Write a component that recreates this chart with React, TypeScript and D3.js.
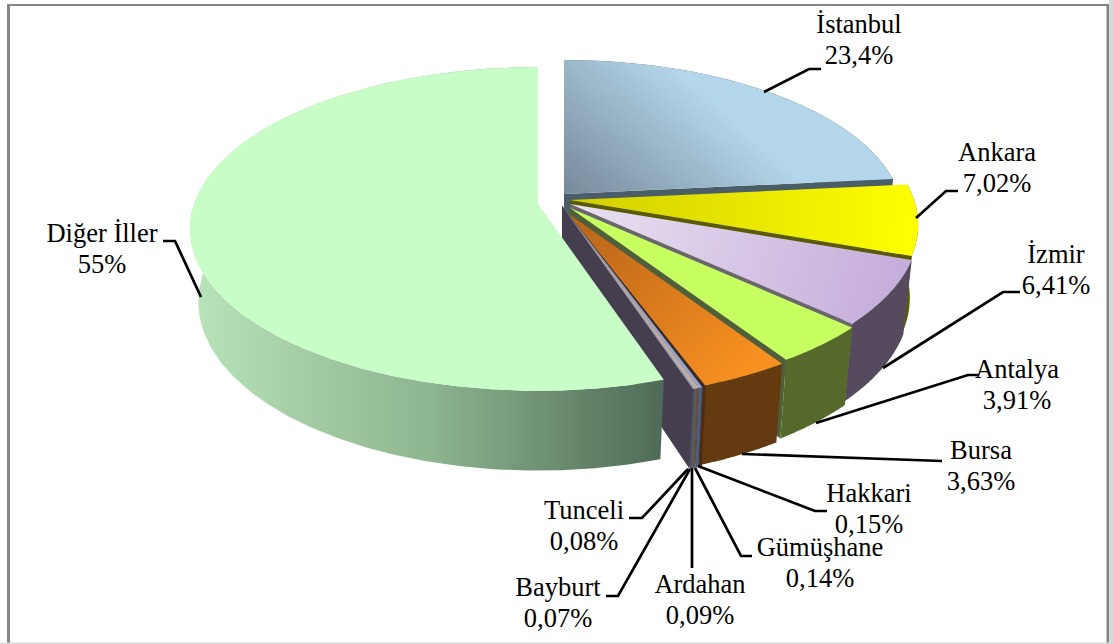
import React from 'react';
import * as d3 from 'd3';

const categories = ['İstanbul','Ankara','İzmir','Antalya','Bursa','Hakkari','Gümüşhane','Ardahan','Tunceli','Bayburt','Diğer İller'];
const values = [23.4,7.02,6.41,3.91,3.63,0.15,0.14,0.09,0.08,0.07,55];
const valueLabels = ['23,4%','7,02%','6,41%','3,91%','3,63%','0,15%','0,14%','0,09%','0,08%','0,07%','55%'];

// explosion offset (px) and perspective scale of each slice
const offsetX = [564,570,570,570,566,562,562,562,562,562,538];
const offsetY = [194,200,204,208,212,206,206,206,206,206,204];
const scales = [0.975,1,1,1,1,1.035,1.035,1.035,1.035,1.035,1];
// direction (degrees clockwise from up) of each top face's gradient
const gradientAngle = [22,97,121,140,153,160,161,161,161,162,261];

const topStart = ['#76899a','#d2ce00','#eae2f2','#c6ff5f','#b5621a','#3a2a20','#8fa8d8','#d8a89c','#b8c8a8','#a498c4','#c8fdc8'];
const topEnd =   ['#b4d6ea','#ffff00','#c6aedc','#c6ff5f','#f99120','#3a2a20','#8fa8d8','#d8a89c','#b8c8a8','#a498c4','#c8fdc8'];
const sideColors = ['#4a5e68','#5a5a00','#554a5e','#56682a','#643a10','#4f2c14','#4a6080','#6a4a48','#56664c','#4d4a70','#4f6b57'];
const endFaceColors = ['#4a5e68','#5a5a00','#6a6670','#4e5f3a','#3e2a14','#4f2c14','#4a6080','#6a4a48','#56664c','#443e4f','#4f6b57'];

const labelX = [859,997,1056,1017,981,869,820,700,584,558,102];
const labelY = [33,161,263,378,459,502,556,593,519,596,242];
const labelGap = 31;
const leaders: [number, number][][] = [
  [[764,92],[809,69],[821,69]],
  [[916,218],[946,191],[958,191]],
  [[883,368],[1003,292],[1020,292]],
  [[816,423],[968,375],[978,375]],
  [[742,454],[942,461]],
  [[698,466],[815,511],[827,511]],
  [[695,468],[741,556],[752,556]],
  [[692,468],[692,568]],
  [[688,469],[642,518],[629,518]],
  [[690,469],[618,596],[606,596]],
  [[201,297],[175,241],[163,241]],
];

const A = 344, B = 158, H = 74, K = 0.154, M = 0.024;
function project(ox: number, oy: number, s: number, theta: number, z: number): [number, number] {
  const u = Math.sin(theta) * s, v = Math.cos(theta) * s;
  const w = 1 + K * v + M * z;
  return [ox + (A * u) / w, oy + (B * v * -1 + H * z) / w];
}

const pie = d3.pie<number>().sort(null).startAngle(0).endAngle(2 * Math.PI);
const arcs = pie(values);
const lineGen = d3.line();
const STEPS = 40;
function rim(i: number, z: number) {
  const a = arcs[i];
  return d3.range(STEPS + 1).map(k => project(offsetX[i], offsetY[i], scales[i], d3.interpolateNumber(a.startAngle, a.endAngle)(k / STEPS), z));
}
function topPath(i: number) {
  const c: [number, number] = [offsetX[i], offsetY[i]];
  return lineGen([c, ...rim(i, 0)])! + 'Z';
}
function sidePath(i: number) {
  return lineGen([...rim(i, 0), ...rim(i, 1).reverse()])! + 'Z';
}
function endFacePath(i: number) {
  const top = rim(i, 0)[STEPS];
  const bot = rim(i, 1)[STEPS];
  const c: [number, number] = [offsetX[i], offsetY[i]];
  const cb: [number, number] = [offsetX[i], offsetY[i] + H / (1 + M)];
  return lineGen([c, top, bot, cb])! + 'Z';
}

export default function App() {
  const order = d3.range(values.length);
  const last = values.length - 1;
  return (
    <svg width={1113} height={644} style={{ position: 'absolute', left: 0, top: 0, display: 'block' }} fontFamily="'Liberation Serif', serif">
      <defs>
        {order.map(i => {
          const c: [number, number] = [offsetX[i], offsetY[i]];
          const m = project(offsetX[i], offsetY[i], scales[i], (gradientAngle[i] * Math.PI) / 180, 0);
          return (
            <linearGradient key={i} id={`top${i}`} gradientUnits="userSpaceOnUse" x1={c[0]} y1={c[1]} x2={m[0]} y2={m[1]}>
              <stop offset="0" stopColor={topStart[i]} />
              <stop offset="1" stopColor={topEnd[i]} />
            </linearGradient>
          );
        })}
        <linearGradient id="sideLast" gradientUnits="userSpaceOnUse" x1={198} y1={0} x2={662} y2={0}>
          <stop offset="0" stopColor="#b8e2b8" />
          <stop offset="0.5" stopColor="#8db58f" />
          <stop offset="1" stopColor="#4f6b57" />
        </linearGradient>
      </defs>
      <rect x={0} y={0} width={1113} height={644} fill="#ffffff" />
      <rect x={7} y={4} width={1101} height={2} fill="#868686" />
      <rect x={7} y={4} width={3} height={640} fill="#868686" />
      <rect x={1106.5} y={4} width={2.5} height={640} fill="#868686" />
      <rect x={1109} y={0} width={4} height={644} fill="#d9d9d9" />
      <rect x={0} y={642.5} width={1113} height={1.5} fill="#d9d9d9" />
      {order.filter(i => i !== last).map(i => (
        <g key={i}>
          <path d={endFacePath(i)} fill={endFaceColors[i]} />
          <path d={sidePath(i)} fill={sideColors[i]} />
          <path d={topPath(i)} fill={`url(#top${i})`} />
        </g>
      ))}
      <path d={sidePath(last)} fill="url(#sideLast)" />
      <path d={topPath(last)} fill={`url(#top${last})`} />
      {leaders.map((pts, i) => (
        <path key={i} d={lineGen(pts)!} fill="none" stroke="#000" strokeWidth={2.7} />
      ))}
      {order.map(i => (
        <text key={i} textAnchor="middle" fontSize={26.5} fill="#000">
          <tspan x={labelX[i]} y={labelY[i]}>{categories[i]}</tspan>
          <tspan x={labelX[i]} y={labelY[i] + labelGap}>{valueLabels[i]}</tspan>
        </text>
      ))}
    </svg>
  );
}
